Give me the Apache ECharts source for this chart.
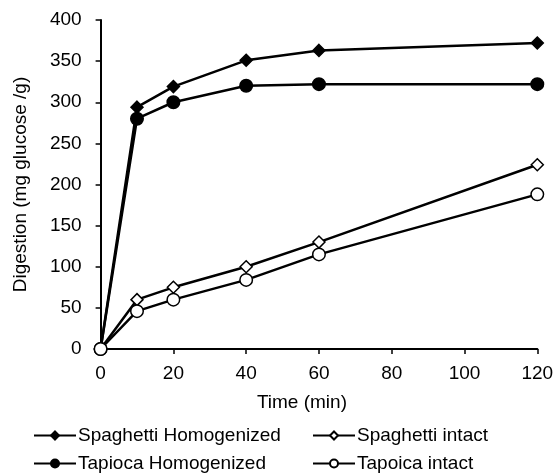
<!DOCTYPE html>
<html>
<head>
<meta charset="utf-8">
<script src="https://cdn.jsdelivr.net/npm/echarts@6/dist/echarts.min.js"></script>
<style>html,body{margin:0;padding:0;background:#fff}#c{width:557px;height:475px}</style>
</head>
<body>
<div id="c"></div>
<script>
const times = [0, 10, 20, 40, 60, 120];
const spaghettiHomogenized = [0, 294, 319, 351, 363, 372];
const tapiocaHomogenized = [0, 280, 300, 320, 322, 322];
const spaghettiIntact = [0, 60, 75, 100, 130, 224];
const tapiocaIntact = [0, 46, 60, 84, 115, 188];
const names = ['Spaghetti Homogenized', 'Spaghetti intact', 'Tapioca Homogenized', 'Tapoica intact'];

const font = 'Liberation Sans, Arial, sans-serif';
const fs = 19;
const pair = arr => times.map((t, i) => [t, arr[i]]);

function mkSeries(name, data, symbol, filled, size) {
  return {
    name, type: 'line', data: pair(data), symbol, symbolSize: size,
    lineStyle: { color: '#000', width: 2.5 },
    itemStyle: { color: filled ? '#000' : '#fff', borderColor: '#000', borderWidth: 1.5 },
    emphasis: { disabled: true }, animation: false, z: filled ? 3 : 4
  };
}
function mkLegend(name, left, top) {
  return {
    data: [name], left, top, itemWidth: 42, itemHeight: 10, itemGap: 0,
    textStyle: { fontFamily: font, fontSize: fs, color: '#000', padding: [0, 0, 0, -3] },
    selectedMode: false
  };
}
const chart = echarts.init(document.getElementById('c'), null, { renderer: 'canvas' });
chart.setOption({
  backgroundColor: '#fff',
  animation: false,
  grid: { left: 100.6, right: 19.7, top: 20, bottom: 126, containLabel: false },
  xAxis: {
    type: 'value', min: 0, max: 120, interval: 20,
    name: 'Time (min)', nameLocation: 'middle', nameGap: 44,
    nameTextStyle: { fontFamily: font, fontSize: fs, color: '#000', padding: [0, 34, 0, 0] },
    axisLine: { lineStyle: { color: '#000', width: 2 } },
    axisTick: { show: true, length: 5, lineStyle: { color: '#000', width: 1.5 } },
    axisLabel: { fontFamily: font, fontSize: fs, color: '#000', margin: 15 },
    splitLine: { show: false }
  },
  yAxis: {
    type: 'value', min: 0, max: 400, interval: 50,
    name: 'Digestion (mg glucose /g)', nameLocation: 'middle', nameGap: 70,
    nameTextStyle: { fontFamily: font, fontSize: fs, color: '#000' },
    axisLine: { show: true, lineStyle: { color: '#000', width: 2 } },
    axisTick: { show: true, length: 5, lineStyle: { color: '#000', width: 1.5 } },
    axisLabel: { fontFamily: font, fontSize: fs, color: '#000', margin: 19 },
    splitLine: { show: false }
  },
  legend: [
    mkLegend(names[0], 28, 421),
    mkLegend(names[1], 307, 421),
    mkLegend(names[2], 28, 449),
    mkLegend(names[3], 307, 449)
  ],
  series: [
    mkSeries(names[0], spaghettiHomogenized, 'diamond', true, 12),
    mkSeries(names[1], spaghettiIntact, 'diamond', false, 12),
    mkSeries(names[2], tapiocaHomogenized, 'circle', true, 12.5),
    mkSeries(names[3], tapiocaIntact, 'circle', false, 12.5)
  ]
});
</script>
</body>
</html>
